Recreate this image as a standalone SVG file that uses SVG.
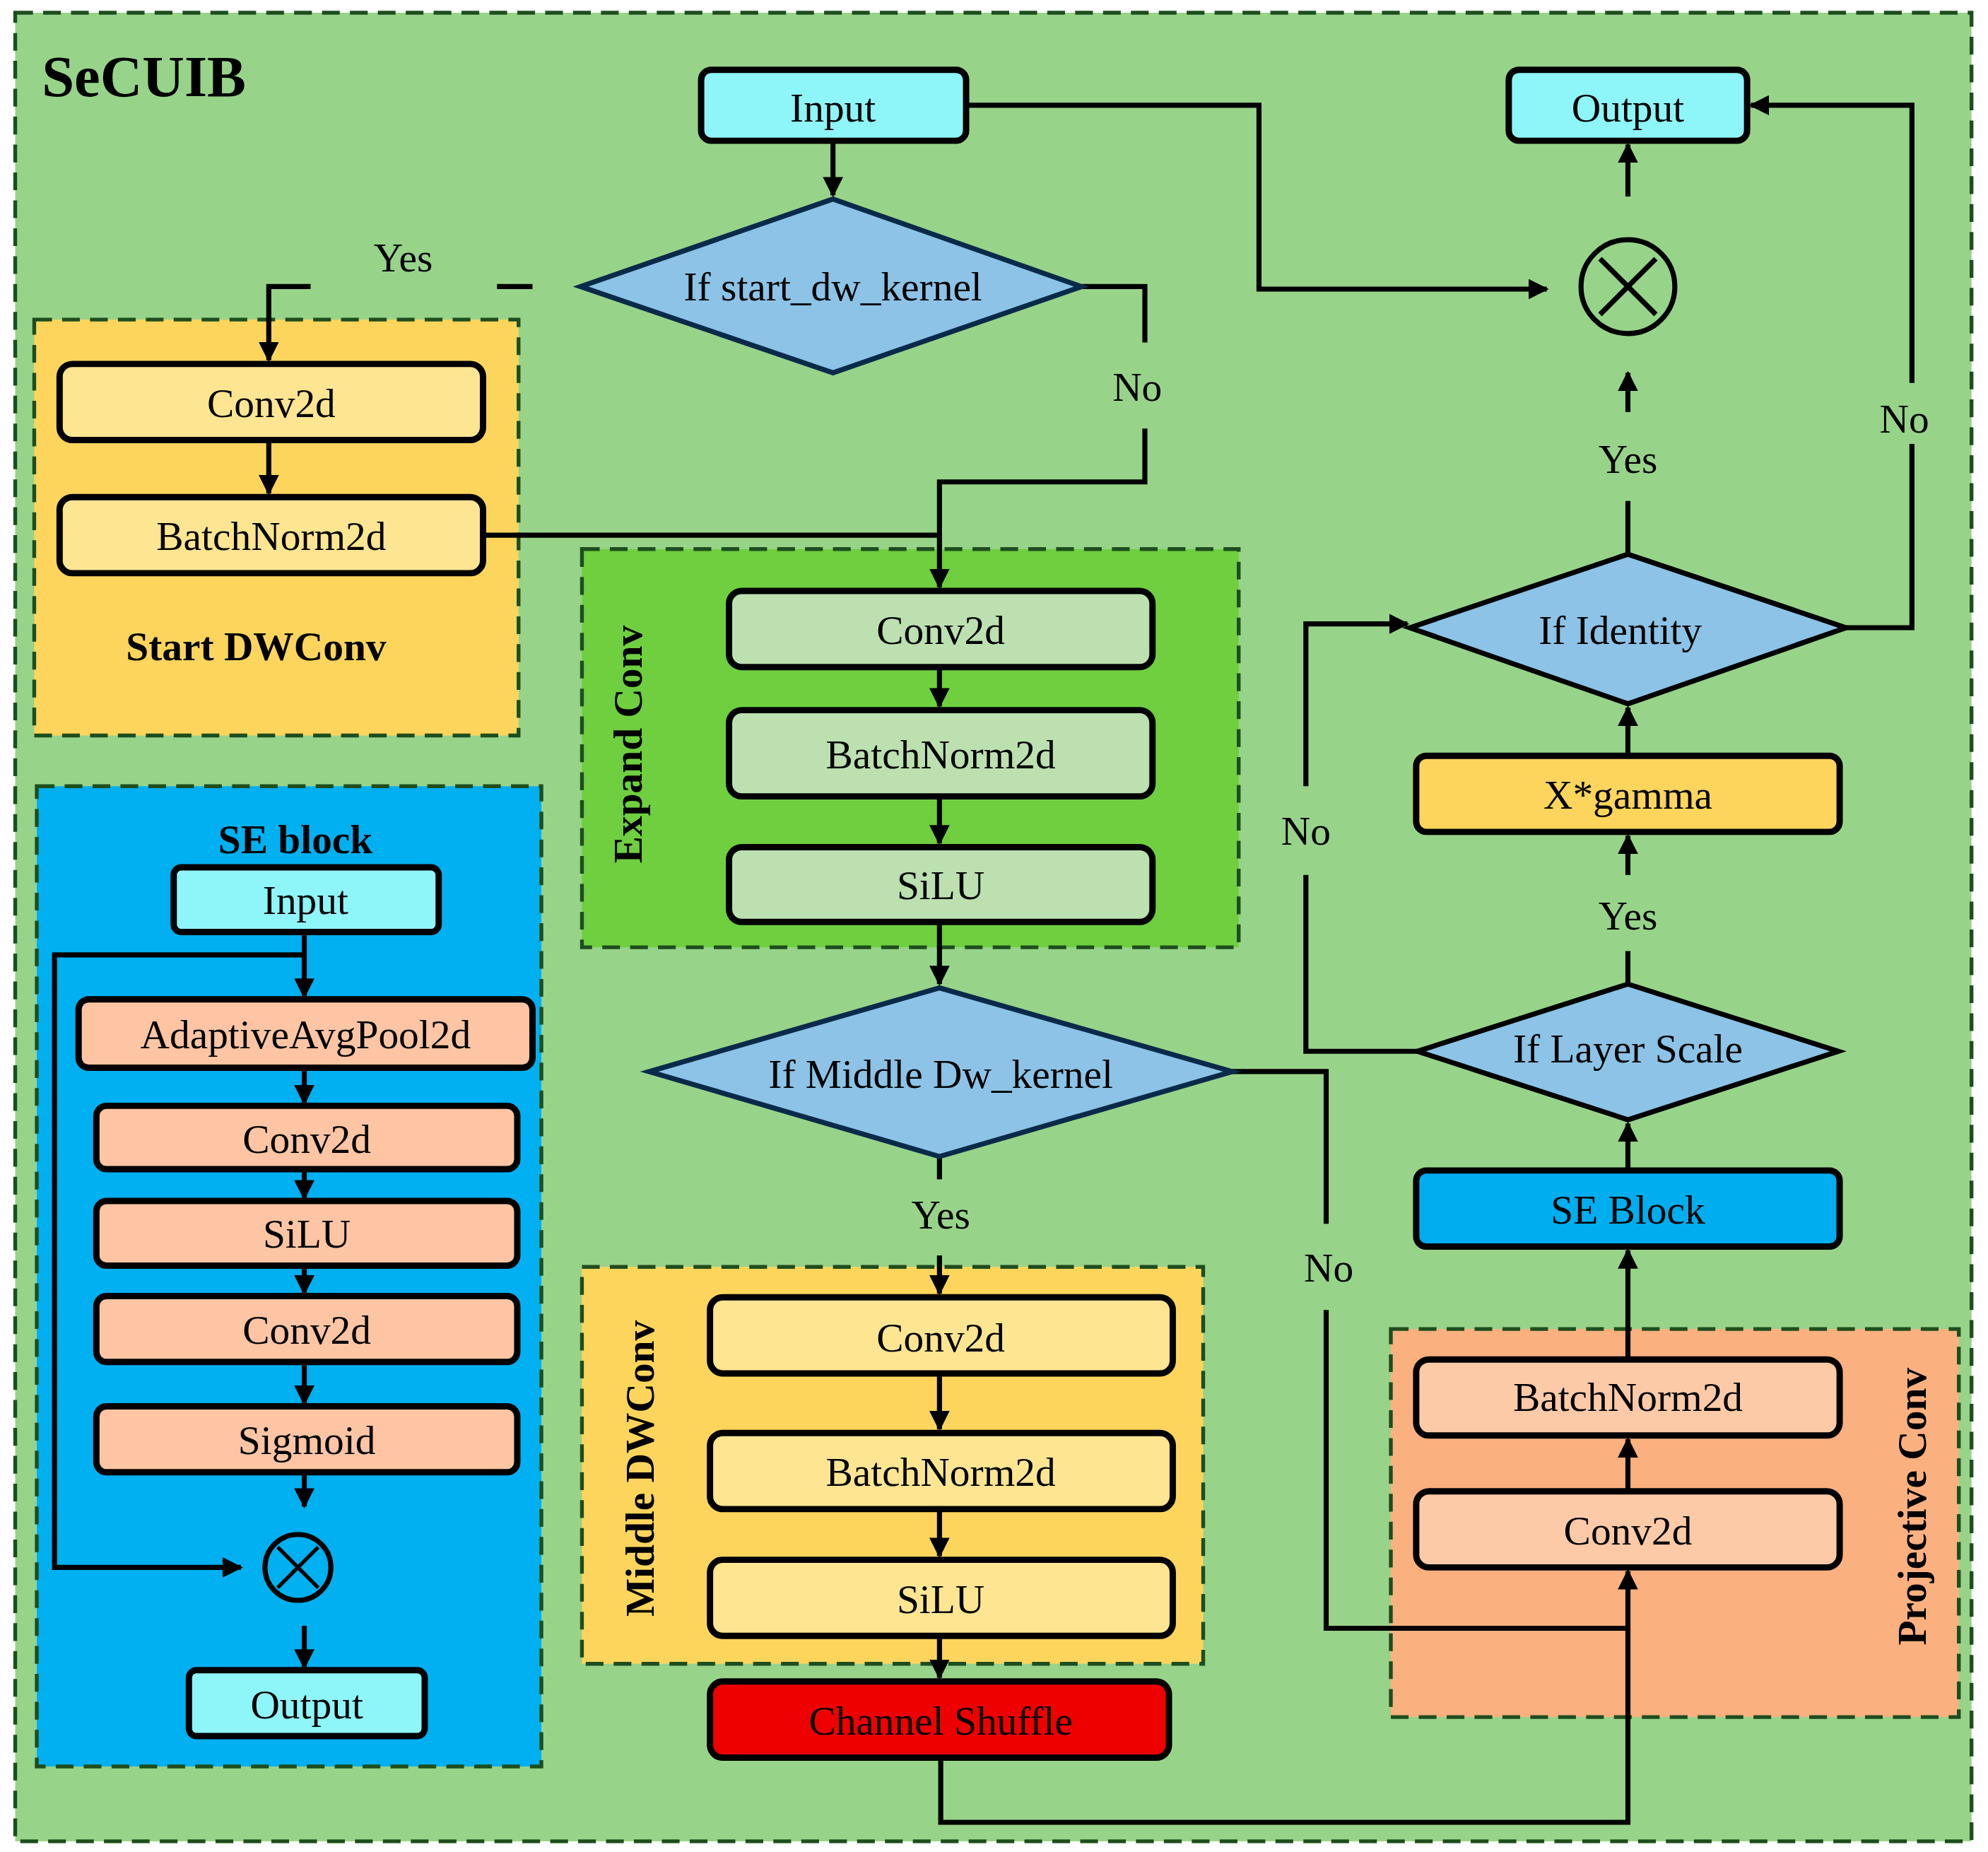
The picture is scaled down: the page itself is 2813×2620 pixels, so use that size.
<svg xmlns="http://www.w3.org/2000/svg" width="2813" height="2620" viewBox="0 0 2813 2620">
<defs>
<marker id="ah" viewBox="0 0 10 10" refX="9" refY="5" markerWidth="4" markerHeight="4" orient="auto-start-reverse" markerUnits="strokeWidth"><path d="M0,0 L10,5 L0,10 z" fill="#000"/></marker>
<style>
.t{font-family:"Liberation Serif","Times New Roman",serif;font-size:32px;fill:#000;text-anchor:middle;dominant-baseline:central}
.b{font-weight:bold}
.n{stroke:#000;stroke-width:5}
.p{stroke:#1e4d1e;stroke-width:3;stroke-dasharray:14 8}
.c{fill:none;stroke:#000;stroke-width:4}
.a{marker-end:url(#ah)}
.d{stroke:#0a2a4a;stroke-width:4;fill:#8cc3e6}
</style>
</defs>
<rect width="2813" height="2620" fill="#fff"/>
<g transform="scale(1.794)">
<rect x="12" y="10" width="1543" height="1442" fill="#98d38a" class="p"/>
<text x="33" y="60" class="t b" style="font-size:46px;text-anchor:start">SeCUIB</text>

<g id="startdw"><rect x="27" y="252" width="382" height="328" fill="#fdd55c" class="p"/><text x="202" y="510" class="t b">Start DWConv</text></g>
<g id="expand"><rect x="459" y="433" width="518" height="314" fill="#6fcf3f" class="p"/><text x="0" y="0" class="t b" transform="translate(495,587) rotate(-90)">Expand Conv</text></g>
<g id="middledw"><rect x="459" y="999" width="490" height="313" fill="#fdd55c" class="p"/><text class="t b" transform="translate(505,1158) rotate(-90)">Middle DWConv</text></g>
<g id="projective"><rect x="1097" y="1048" width="448" height="306" fill="#fbb07f" class="p"/><text class="t b" transform="translate(1508,1188) rotate(-90)">Projective Conv</text></g>
<g id="seblock"><rect x="29" y="620" width="398" height="773" fill="#00b0f0" class="p"/><text x="233" y="662" class="t b">SE block</text></g>

<g id="connectors">
<path class="c a" d="M657,111 V154"/>
<path class="c" d="M420,226 H392"/>
<path class="c a" d="M245,226 H212 V284"/>
<path class="c a" d="M212,347 V389"/>
<path class="c" d="M853,226 H903 V270"/>
<path class="c a" d="M903,338 V380 H741 V463"/>
<path class="c" d="M382,422 H741"/>
<path class="c a" d="M741,526 V557"/>
<path class="c a" d="M741,628 V665"/>
<path class="c a" d="M741,727 V776"/>
<path class="c" d="M741,912 V930"/>
<path class="c a" d="M741,990 V1020"/>
<path class="c a" d="M741,1083 V1127"/>
<path class="c a" d="M741,1190 V1227"/>
<path class="c a" d="M741,1290 V1323"/>
<path class="c a" d="M742,1386 V1437 H1284 V1239"/>
<path class="c" d="M972,845 H1046 V965"/>
<path class="c" d="M1046,1033 V1284 H1284"/>
<path class="c a" d="M1284,1176 V1135"/>
<path class="c a" d="M1284,1072 V986"/>
<path class="c a" d="M1284,923 V886"/>
<path class="c" d="M1284,776 V750"/>
<path class="c a" d="M1284,690 V659"/>
<path class="c a" d="M1284,596 V558"/>
<path class="c" d="M1118,829 H1030 V690"/>
<path class="c a" d="M1030,620 V492 H1110"/>
<path class="c" d="M1456,495 H1508 V350"/>
<path class="c a" d="M1508,302 V83 H1381"/>
<path class="c" d="M1284,437 V395"/>
<path class="c a" d="M1284,325 V294"/>
<path class="c a" d="M1284,155 V114"/>
<path class="c a" d="M762,83 H993 V228 H1220"/>
<path class="c a" d="M240,735 V786"/>
<path class="c a" d="M240,842 V870"/>
<path class="c a" d="M240,922 V945"/>
<path class="c a" d="M240,998 V1020"/>
<path class="c a" d="M240,1074 V1107"/>
<path class="c a" d="M240,1161 V1188"/>
<path class="c a" d="M240,1282 V1315"/>
<path class="c a" d="M240,753 H43 V1236 H190"/>
</g>
<g class="t">
<text x="318" y="203">Yes</text>
<text x="897" y="305">No</text>
<text x="742" y="958">Yes</text>
<text x="1048" y="1000">No</text>
<text x="1284" y="722">Yes</text>
<text x="1030" y="655">No</text>
<text x="1502" y="330">No</text>
<text x="1284" y="362">Yes</text>
</g>

<g id="input"><rect x="553" y="55" width="209" height="56" rx="8" fill="#8ef5f8" class="n"/><text x="657" y="85" class="t">Input</text></g>
<g id="output"><rect x="1190" y="55" width="188" height="56" rx="8" fill="#8ef5f8" class="n"/><text x="1284" y="85" class="t">Output</text></g>
<g id="d1"><polygon points="458,226 657,157 853,226 657,294" class="d"/><text x="657" y="226" class="t">If start_dw_kernel</text></g>
<g id="s1"><rect x="47" y="287" width="334" height="60" rx="10" fill="#fde591" class="n"/><text x="214" y="318" class="t">Conv2d</text></g>
<g id="s2"><rect x="47" y="392" width="334" height="60" rx="10" fill="#fde591" class="n"/><text x="214" y="423" class="t">BatchNorm2d</text></g>
<g id="e1"><rect x="575" y="466" width="334" height="60" rx="10" fill="#bce0b0" class="n"/><text x="742" y="497" class="t">Conv2d</text></g>
<g id="e2"><rect x="575" y="560" width="334" height="68" rx="10" fill="#bce0b0" class="n"/><text x="742" y="595" class="t">BatchNorm2d</text></g>
<g id="e3"><rect x="575" y="668" width="334" height="59" rx="10" fill="#bce0b0" class="n"/><text x="742" y="698" class="t">SiLU</text></g>
<g id="d2"><polygon points="512,845 741,779 972,845 741,912" class="d"/><text x="742" y="847" class="t">If Middle Dw_kernel</text></g>
<g id="m1"><rect x="560" y="1023" width="365" height="60" rx="10" fill="#fde591" class="n"/><text x="742" y="1055" class="t">Conv2d</text></g>
<g id="m2"><rect x="560" y="1130" width="365" height="60" rx="10" fill="#fde591" class="n"/><text x="742" y="1161" class="t">BatchNorm2d</text></g>
<g id="m3"><rect x="560" y="1230" width="365" height="60" rx="10" fill="#fde591" class="n"/><text x="742" y="1261" class="t">SiLU</text></g>
<g id="shuffle"><rect x="560" y="1326" width="362" height="60" rx="10" fill="#ee0000" class="n"/><text x="742" y="1357" class="t">Channel Shuffle</text></g>
<g id="p1"><rect x="1117" y="1072" width="334" height="60" rx="10" fill="#fdcaa8" class="n"/><text x="1284" y="1102" class="t">BatchNorm2d</text></g>
<g id="p2"><rect x="1117" y="1176" width="334" height="60" rx="10" fill="#fdcaa8" class="n"/><text x="1284" y="1207" class="t">Conv2d</text></g>
<g id="se"><rect x="1117" y="923" width="334" height="60" rx="8" fill="#00adee" class="n"/><text x="1284" y="954" class="t">SE Block</text></g>
<g id="d3"><polygon points="1118,829 1284,776 1450,829 1284,883" class="d" style="stroke:#000"/><text x="1284" y="827" class="t">If Layer Scale</text></g>
<g id="gamma"><rect x="1117" y="596" width="334" height="60" rx="8" fill="#fdd55c" class="n"/><text x="1284" y="627" class="t">X*gamma</text></g>
<g id="d4"><polygon points="1112,495 1284,437 1456,495 1284,555" class="d" style="stroke:#000"/><text x="1278" y="497" class="t">If  Identity</text></g>
<g id="mul"><circle cx="1284" cy="226" r="37" fill="none" stroke="#000" stroke-width="4"/><path d="M1262,204 L1306,248 M1306,204 L1262,248" stroke="#000" stroke-width="4"/></g>

<g id="se_in"><rect x="137" y="684" width="209" height="51" rx="6" fill="#8ef5f8" class="n"/><text x="241" y="710" class="t">Input</text></g>
<g id="se_pool"><rect x="62" y="788" width="358" height="54" rx="8" fill="#fdc5a3" class="n"/><text x="241" y="816" class="t">AdaptiveAvgPool2d</text></g>
<g id="se_c1"><rect x="76" y="872" width="332" height="50" rx="8" fill="#fdc5a3" class="n"/><text x="242" y="898" class="t">Conv2d</text></g>
<g id="se_silu"><rect x="76" y="947" width="332" height="51" rx="8" fill="#fdc5a3" class="n"/><text x="242" y="973" class="t">SiLU</text></g>
<g id="se_c2"><rect x="76" y="1022" width="332" height="52" rx="8" fill="#fdc5a3" class="n"/><text x="242" y="1049" class="t">Conv2d</text></g>
<g id="se_sig"><rect x="76" y="1109" width="332" height="52" rx="8" fill="#fdc5a3" class="n"/><text x="242" y="1136" class="t">Sigmoid</text></g>
<g id="se_mul"><circle cx="235" cy="1236" r="26" fill="none" stroke="#000" stroke-width="4"/><path d="M219,1220 L251,1252 M251,1220 L219,1252" stroke="#000" stroke-width="3"/></g>
<g id="se_out"><rect x="149" y="1317" width="186" height="52" rx="6" fill="#8ef5f8" class="n"/><text x="242" y="1344" class="t">Output</text></g>
</g>
</svg>
